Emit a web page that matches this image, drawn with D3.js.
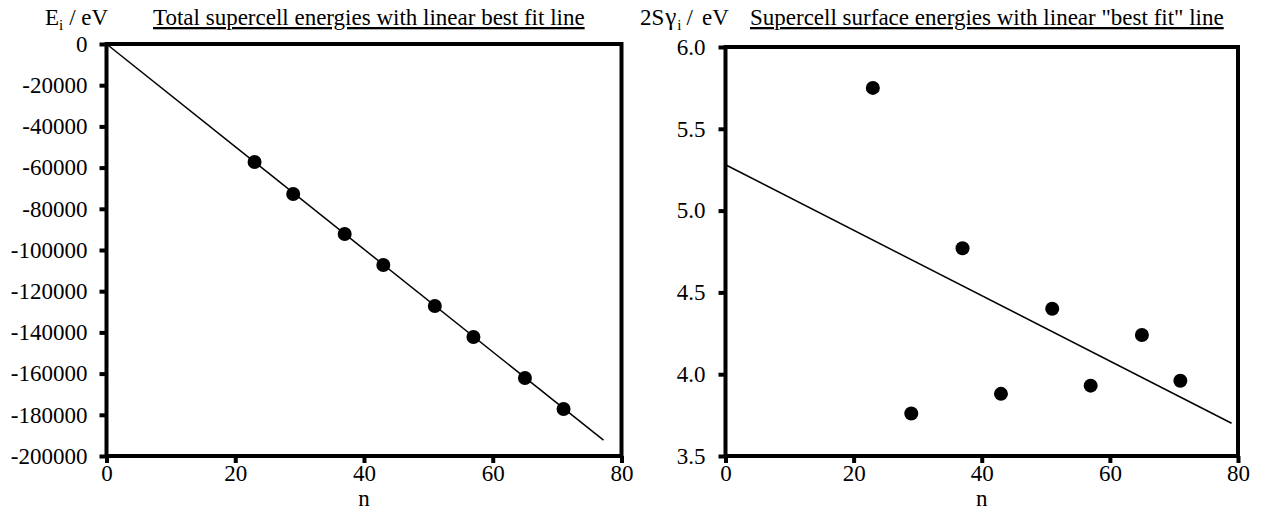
<!DOCTYPE html>
<html>
<head>
<meta charset="utf-8">
<script src="https://cdn.jsdelivr.net/npm/d3@7"></script>
<style>
  body { margin: 0; background: #fff; }
  svg text { font-family: 'Liberation Serif', 'Times New Roman', serif; fill: #000; }
</style>
</head>
<body>
<div id="chart"></div>
<script>
// supercell sizes (shared by both panels)
const nValues = [23, 29, 37, 43, 51, 57, 65, 71];
// total supercell energies, eV
const totalEnergies = [-57300, -72800, -92200, -107300, -127200, -142200, -162100, -177200];
// 2*S*gamma, eV
const surfaceEnergies = [5.75, 3.76, 4.77, 3.88, 4.40, 3.93, 4.24, 3.96];
// best fit line end points [n, value]
const totalFit = [[0, 0], [77.2, -192300]];
const surfaceFit = [[0, 5.28], [79, 3.70]];

const xTicks = [0, 20, 40, 60, 80];
const leftYTicks = d3.range(0, -200001, -20000);
const rightYTicks = [3.5, 4.0, 4.5, 5.0, 5.5, 6.0];

const width = 1263, height = 512;
const fontSize = 23;
const serif = "'Liberation Serif', 'Times New Roman', serif";

const svg = d3.select('#chart').append('svg')
  .attr('width', width)
  .attr('height', height)
  .style('font-family', serif);

function drawPanel(cfg) {
  const x = d3.scaleLinear().domain([0, 80]).range([cfg.left, cfg.right]);
  const y = d3.scaleLinear().domain(cfg.yDomain).range([cfg.bottom, cfg.top]);
  const g = svg.append('g');

  // x axis
  const xAxis = g.append('g')
    .attr('transform', `translate(0,${cfg.bottom})`)
    .call(d3.axisBottom(x).tickValues(xTicks).tickSize(7).tickPadding(2).tickFormat(d => String(d)));
  // y axis
  const yAxis = g.append('g')
    .attr('transform', `translate(${cfg.left},0)`)
    .call(d3.axisLeft(y).tickValues(cfg.yTicks).tickSize(7).tickPadding(cfg.yPad).tickFormat(cfg.yFormat));

  [xAxis, yAxis].forEach(a => {
    a.attr('font-family', serif).attr('font-size', fontSize);
    a.select('.domain').remove();
    a.selectAll('.tick line').attr('stroke', '#000').attr('stroke-width', 4);
    a.selectAll('.tick text')
      .style('font-family', serif)
      .attr('font-size', fontSize)
      .attr('fill', '#000');
  });

  // frame
  g.append('rect')
    .attr('x', cfg.left)
    .attr('y', cfg.top)
    .attr('width', cfg.right - cfg.left)
    .attr('height', cfg.bottom - cfg.top)
    .attr('fill', 'none')
    .attr('stroke', '#000')
    .attr('stroke-width', 4);

  // fit line
  g.append('line')
    .attr('x1', x(cfg.fit[0][0]))
    .attr('y1', y(cfg.fit[0][1]))
    .attr('x2', x(cfg.fit[1][0]))
    .attr('y2', y(cfg.fit[1][1]))
    .attr('stroke', '#000')
    .attr('stroke-width', 1.5);

  // points
  g.selectAll('circle')
    .data(nValues.map((n, i) => ({ n: n, v: cfg.values[i] })))
    .join('circle')
    .attr('cx', d => x(d.n))
    .attr('cy', d => y(d.v))
    .attr('r', 7)
    .attr('fill', '#000');

  // x label
  g.append('text')
    .attr('x', (cfg.left + cfg.right) / 2)
    .attr('y', 506)
    .attr('text-anchor', 'middle')
    .attr('font-size', fontSize)
    .text('n');

  // title, underlined
  g.append('text')
    .attr('x', cfg.titleX)
    .attr('y', 25)
    .attr('font-size', fontSize)
    .style('text-decoration', 'underline')
    .text(cfg.title);

  return g;
}

const leftPanel = drawPanel({
  left: 106.5, right: 621.5, top: 44, bottom: 456,
  yDomain: [-200000, 0], yTicks: leftYTicks, yPad: 12,
  yFormat: d => String(d),
  values: totalEnergies, fit: totalFit,
  titleX: 153, title: 'Total supercell energies with linear best fit line'
});

const rightPanel = drawPanel({
  left: 725.5, right: 1238, top: 47, bottom: 456,
  yDomain: [3.5, 6.0], yTicks: rightYTicks, yPad: 13,
  yFormat: d3.format('.1f'),
  values: surfaceEnergies, fit: surfaceFit,
  titleX: 750, title: 'Supercell surface energies with linear "best fit" line'
});

// y axis labels with subscripts
const leftLabel = svg.append('text').attr('x', 45).attr('y', 25).attr('font-size', fontSize);
leftLabel.append('tspan').text('E');
leftLabel.append('tspan').attr('font-size', 15).attr('dy', 5).text('i');
leftLabel.append('tspan').attr('dy', -5).attr('dx', 6).text('/ eV');

const rightLabel = svg.append('text').attr('x', 640).attr('y', 25).attr('font-size', fontSize);
rightLabel.append('tspan').text('2S');
rightLabel.append('tspan').attr('font-size', 25).attr('dx', 1).text('γ');
rightLabel.append('tspan').attr('font-size', 15).attr('dy', 5).attr('dx', 1).text('i');
rightLabel.append('tspan').attr('dy', -5).attr('dx', 5).text('/');
rightLabel.append('tspan').attr('dx', 9).text('eV');
</script>
</body>
</html>
